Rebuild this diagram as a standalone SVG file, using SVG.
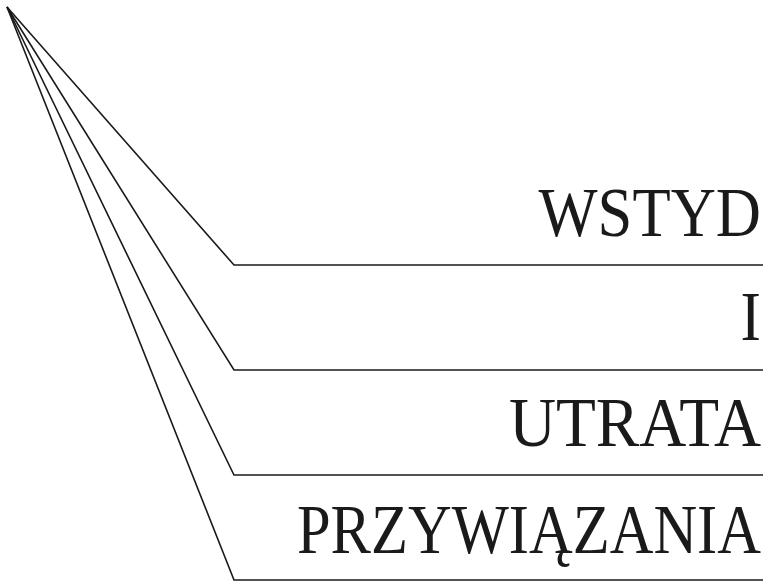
<svg xmlns="http://www.w3.org/2000/svg" width="770" height="584" viewBox="0 0 770 584">
<style>
.c{fill:none;stroke:#1a1a1a;stroke-width:1.6;stroke-linejoin:miter}
.t{font-family:'Liberation Serif','Times New Roman',serif;font-size:70px;fill:#1a1a1a;text-anchor:end}
</style>
<rect width="770" height="584" fill="#fff"/>
<g id="connectors">
<polyline class="c" points="7,7 234,265 763,265"/>
<polyline class="c" points="7,7 234,370 763,370"/>
<polyline class="c" points="7,7 234,475 763,475"/>
<polyline class="c" points="7,7 234,580 763,580"/>
</g>
<g id="n1" transform="translate(761,236) scale(0.894,1)"><text class="t" x="0" y="0">WSTYD</text></g>
<g id="n2" transform="translate(761,340) scale(0.875,1)"><text class="t" x="0" y="0">I</text></g>
<g id="n3" transform="translate(761,446) scale(0.932,1)"><text class="t" x="0" y="0">UTRATA</text></g>
<g id="n4" transform="translate(761,553) scale(0.865,1)"><text class="t" x="0" y="0">PRZYWIĄZANIA</text></g>
</svg>
